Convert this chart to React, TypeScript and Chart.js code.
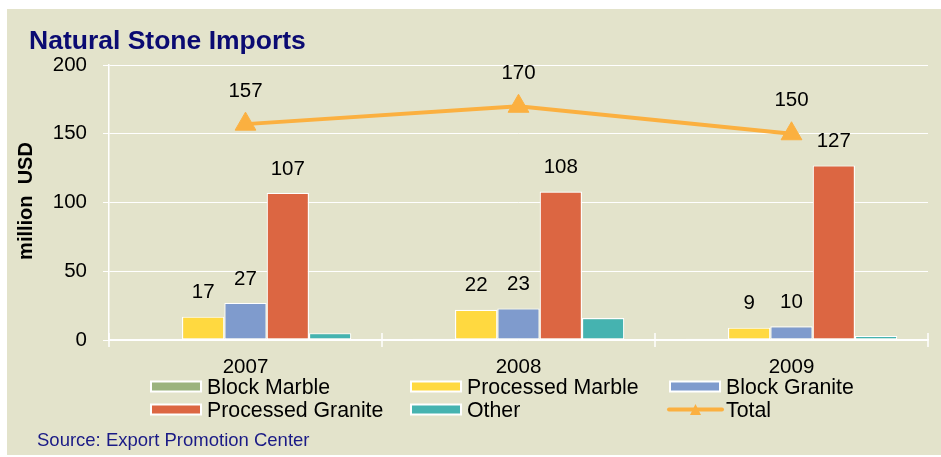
import React, { useEffect, useRef } from "react";
import { Chart, registerables } from "chart.js";

Chart.register(...registerables);

const categories = ["2007", "2008", "2009"];
const blockMarble = [1, 1, 1];
const processedMarble = [17, 22, 9];
const blockGranite = [27, 23, 10];
const processedGranite = [107, 108, 127];
const other = [5, 16, 3];
const total = [157, 170, 150];
const yTicks = [0, 50, 100, 150, 200];

const seriesNames = ["Block Marble", "Processed Marble", "Block Granite", "Processed Granite", "Other", "Total"];
const seriesColors = ["#9BB37E", "#FFD940", "#7F9BCD", "#DC6642", "#45B3B0", "#FBB040"];
const showLabels = [false, true, true, true, false, true];

const FONT = "'Liberation Sans', Arial, Helvetica, sans-serif";
const NAVY = "#0B0B72";
const BG = "#E3E3CB";

const decorPlugin = {
  id: "decor",
  afterDraw(chart: any) {
    const ctx: CanvasRenderingContext2D = chart.ctx;
    const xs = chart.scales.x;
    ctx.save();

    // category boundary tick marks crossing the x axis
    ctx.strokeStyle = "#ffffff";
    ctx.lineWidth = 1.5;
    const n = categories.length;
    for (let i = 0; i <= n; i++) {
      const x = xs.left + (i * (xs.right - xs.left)) / n;
      ctx.beginPath();
      ctx.moveTo(x, xs.top - 7);
      ctx.lineTo(x, xs.top + 7);
      ctx.stroke();
    }

    // data labels
    ctx.fillStyle = "#000000";
    ctx.font = `20.5px ${FONT}`;
    ctx.textAlign = "center";
    ctx.textBaseline = "middle";
    chart.data.datasets.forEach((ds: any, di: number) => {
      if (!showLabels[di]) return;
      const meta = chart.getDatasetMeta(di);
      const off = ds.type === "line" ? 33 : 24;
      meta.data.forEach((el: any, i: number) => {
        ctx.fillText(String(ds.data[i]), el.x, el.y - off);
      });
    });

    // title
    ctx.textAlign = "left";
    ctx.textBaseline = "alphabetic";
    ctx.fillStyle = NAVY;
    ctx.font = `bold 26.5px ${FONT}`;
    ctx.fillText("Natural Stone Imports", 22, 40);

    // y-axis title
    ctx.save();
    ctx.translate(25, 192);
    ctx.rotate(-Math.PI / 2);
    ctx.textAlign = "center";
    ctx.fillStyle = "#000000";
    ctx.font = `bold 20px ${FONT}`;
    ctx.fillText("million  USD", 0, 0);
    ctx.restore();

    // source
    ctx.fillStyle = "#1A1A86";
    ctx.font = `18.5px ${FONT}`;
    ctx.textAlign = "left";
    ctx.fillText("Source: Export Promotion Center", 30, 437);

    // legend
    const colX = [143, 403, 662];
    const rowY = [377.5, 400.5];
    chart.data.datasets.forEach((ds: any, i: number) => {
      const cx = colX[i % 3];
      const cy = rowY[Math.floor(i / 3)];
      if (ds.type === "line") {
        ctx.strokeStyle = ds.borderColor;
        ctx.lineWidth = 4;
        ctx.lineCap = "round";
        ctx.beginPath();
        ctx.moveTo(cx, cy);
        ctx.lineTo(cx + 53, cy);
        ctx.stroke();
        const tx = cx + 26.5;
        ctx.fillStyle = ds.borderColor;
        ctx.beginPath();
        ctx.moveTo(tx, cy - 5.5);
        ctx.lineTo(tx + 5.5, cy + 5.5);
        ctx.lineTo(tx - 5.5, cy + 5.5);
        ctx.closePath();
        ctx.fill();
      } else {
        ctx.fillStyle = "#ffffff";
        ctx.fillRect(cx, cy - 6, 52, 12);
        ctx.fillStyle = ds.backgroundColor;
        ctx.fillRect(cx + 2, cy - 4, 48, 8);
      }
      ctx.fillStyle = "#000000";
      ctx.font = `21.3px ${FONT}`;
      ctx.fillText(ds.label, cx + 57, cy + 7.5);
    });

    ctx.restore();
  },
};

export default function App() {
  const canvasRef = useRef<HTMLCanvasElement | null>(null);

  useEffect(() => {
    if (!canvasRef.current) return;
    const barSeries = [blockMarble, processedMarble, blockGranite, processedGranite, other];
    const datasets: any[] = barSeries.map((d, i) => ({
      type: "bar",
      label: seriesNames[i],
      data: d,
      backgroundColor: seriesColors[i],
      borderColor: "#ffffff",
      borderWidth: 1.2,
      borderSkipped: false,
      categoryPercentage: 0.775,
      barPercentage: 1,
      order: 1,
    }));
    datasets.push({
      type: "line",
      label: seriesNames[5],
      data: total,
      borderColor: seriesColors[5],
      backgroundColor: seriesColors[5],
      borderWidth: 4,
      pointStyle: "triangle",
      pointRadius: 12,
      pointBorderWidth: 1,
      pointBackgroundColor: seriesColors[5],
      pointBorderColor: seriesColors[5],
      tension: 0,
      order: 0,
    });

    const chart = new Chart(canvasRef.current, {
      type: "bar",
      data: { labels: categories, datasets },
      options: {
        animation: false,
        responsive: true,
        maintainAspectRatio: false,
        layout: { padding: { top: 56, right: 13, left: 0, bottom: 0 } },
        plugins: {
          legend: { display: false },
          tooltip: { enabled: false },
          title: { display: false },
        },
        scales: {
          x: {
            offset: true,
            grid: { display: false },
            border: { display: true, color: "#ffffff", width: 1.5 },
            ticks: {
              color: "#000000",
              font: { family: FONT, size: 20.5 },
              padding: 7.5,
            },
            afterFit: (scale: any) => {
              scale.height = 115;
            },
          },
          y: {
            min: 0,
            max: 200,
            afterBuildTicks: (scale: any) => {
              scale.ticks = yTicks.map((v) => ({ value: v }));
            },
            grid: { color: "#ffffff", lineWidth: 1, tickLength: 6, drawTicks: true },
            border: { display: true, color: "#ffffff", width: 1.5 },
            ticks: {
              color: "#000000",
              font: { family: FONT, size: 20.5 },
              padding: 16,
            },
            afterFit: (scale: any) => {
              scale.width = 102;
            },
          },
        },
      },
      plugins: [decorPlugin],
    });

    return () => chart.destroy();
  }, []);

  return (
    <div
      style={{
        position: "fixed",
        left: 7,
        top: 9,
        width: 934,
        height: 446,
        background: BG,
      }}
    >
      <canvas ref={canvasRef} />
    </div>
  );
}
